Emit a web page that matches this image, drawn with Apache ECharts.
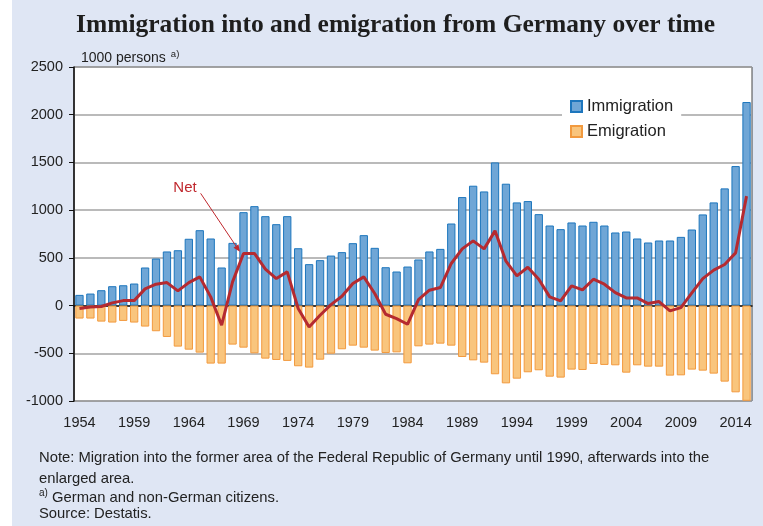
<!DOCTYPE html>
<html>
<head>
<meta charset="utf-8">
<script src="https://cdn.jsdelivr.net/npm/echarts@6/dist/echarts.min.js"></script>
<style>
html,body{margin:0;padding:0;}
#main{width:763px;height:526px;background:linear-gradient(to right,#ffffff 12px,#dfe6f4 12px);}
</style>
</head>
<body>
<div id="main"></div>
<script>
// ---- data ----
const years = [];
for (let y = 1954; y <= 2015; y++) years.push(String(y));

const immigration = [112,126,161,203,213,231,399,493,567,580,700,790,703,399,657,979,1042,937,853,937,
  601,434,476,524,560,654,738,605,402,357,409,483,567,594,860,1137,1256,1196,1500,1277,
  1081,1095,958,839,801,871,839,878,839,766,776,703,661,682,682,720,797,955,1081,1228,1462,2133];

const emigration = [-136,-136,-168,-178,-161,-178,-220,-269,-329,-430,-462,-493,-608,-608,-409,-441,-500,-556,-570,-580,
  -636,-650,-567,-504,-458,-420,-441,-472,-497,-490,-605,-427,-409,-399,-420,-539,-574,-598,-720,-815,
  -766,-699,-678,-745,-755,-671,-675,-612,-622,-626,-703,-626,-640,-640,-734,-731,-671,-682,-713,-797,-909,-998];

const net = [-31,-14,-10,28,52,52,175,224,241,154,241,301,91,-206,248,546,546,381,283,353,
  -31,-224,-101,10,98,231,301,126,-91,-136,-196,63,161,189,441,594,678,594,783,465,
  311,402,276,91,49,206,164,276,224,136,80,80,21,42,-56,-21,133,283,371,430,552,1147];

const yTicks = {min: -1000, max: 2500, interval: 500};

const titleText = 'Immigration into and emigration from Germany over time';
const unitText = '1000 persons';
const noteLines = [
  'Note: Migration into the former area of the Federal Republic of Germany until 1990, afterwards into the',
  'enlarged area.'
];
const footnoteText = ' German and non-German citizens.';
const sourceText = 'Source: Destatis.';

// annotation anchor (category index, value)
const netLabelAt = [9.65, 1232];
const netArrowFrom = [11.08, 1176];
const netArrowTo = [14.67, 563];

const chart = echarts.init(document.getElementById('main'), null, {renderer: 'canvas'});
const sans = 'Liberation Sans, Arial, sans-serif';
const txt = '#222';

const option = {
  backgroundColor: 'transparent',
  animation: false,
  title: [
    {text: titleText, left: 71, top: 7,
     textStyle: {fontFamily: 'Liberation Serif, Times New Roman, serif', fontWeight: 'bold', fontSize: 25.5, color: '#1e1e1e'}},
    {text: '{a|' + unitText + '} {s|a)}', left: 76, top: 44,
     textStyle: {fontWeight: 'normal', rich: {a: {fontFamily: sans, fontSize: 14, fontWeight: 'normal', color: txt}, s: {fontFamily: sans, fontSize: 9.5, fontWeight: 'normal', color: txt, verticalAlign: 'top', padding: [0,0,8,0]}}}},
    {text: noteLines.join('\n'), left: 34, top: 442,
     textStyle: {fontFamily: sans, fontSize: 14.8, color: txt, lineHeight: 21, fontWeight: 'normal'}},
    {text: '{s|a)}{a|' + footnoteText + '}', left: 34, top: 483,
     textStyle: {fontWeight: 'normal', rich: {a: {fontFamily: sans, fontSize: 14.8, fontWeight: 'normal', color: txt}, s: {fontFamily: sans, fontSize: 10, fontWeight: 'normal', color: txt, padding: [0,0,9,0]}}}},
    {text: sourceText, left: 34, top: 501,
     textStyle: {fontFamily: sans, fontSize: 14.8, color: txt, fontWeight: 'normal'}}
  ],
  grid: {left: 74, right: 11, top: 67, bottom: 125, show: true, backgroundColor: '#ffffff', borderColor: '#444', borderWidth: 1},
  legend: {
    data: ['Immigration', 'Emigration'],
    orient: 'vertical', left: 562, top: 94,
    backgroundColor: '#ffffff', padding: [4, 8, 4, 8],
    itemWidth: 11, itemHeight: 11, itemGap: 8, icon: 'rect',
    textStyle: {fontFamily: sans, fontSize: 16.5, color: txt}
  },
  xAxis: {
    type: 'category', data: years, boundaryGap: true,
    axisLine: {lineStyle: {color: '#111', width: 1.5}},
    axisTick: {interval: 0, length: 5, lineStyle: {color: '#111'}},
    axisLabel: {interval: 4, margin: 14, fontFamily: sans, fontSize: 14.5, color: txt},
    splitLine: {show: false}
  },
  yAxis: {
    type: 'value', min: yTicks.min, max: yTicks.max, interval: yTicks.interval,
    axisLine: {show: true, lineStyle: {color: '#111', width: 1.5}},
    axisTick: {show: true, length: 5, lineStyle: {color: '#111'}},
    axisLabel: {margin: 11, fontFamily: sans, fontSize: 14.5, color: txt, formatter: v => String(v)},
    splitLine: {lineStyle: {color: '#a3a3a3', width: 1.5}}
  },
  series: [
    {name: 'Immigration', type: 'bar', data: immigration, barWidth: '76%', barGap: '-100%',
     itemStyle: {color: '#6fa6d6', borderColor: '#1d76bd', borderWidth: 1}},
    {name: 'Emigration', type: 'bar', data: emigration, barWidth: '76%', barGap: '-100%',
     itemStyle: {color: '#f9c57d', borderColor: '#f29a3f', borderWidth: 1}},
    {name: 'Net', type: 'line', data: net, symbol: 'none', z: 5,
     lineStyle: {color: '#b52a30', width: 3}}
  ]
};
chart.setOption(option);

function toPx(pt) {
  const i = Math.floor(pt[0]), f = pt[0] - i;
  const a = chart.convertToPixel({gridIndex: 0}, [i, pt[1]]);
  const b = chart.convertToPixel({gridIndex: 0}, [i + 1, pt[1]]);
  return [a[0] + f * (b[0] - a[0]), a[1]];
}
const lp = toPx(netLabelAt), p0 = toPx(netArrowFrom), p1 = toPx(netArrowTo);
const ang = Math.atan2(p1[1] - p0[1], p1[0] - p0[0]);
const ah = 7, aw = 3;
const bx = p1[0] - ah * Math.cos(ang), by = p1[1] - ah * Math.sin(ang);
chart.setOption({
  graphic: [
    {type: 'text', x: lp[0], y: lp[1], z: 10,
     style: {text: 'Net', fill: '#c0282e', font: '15px ' + sans, textAlign: 'center', textVerticalAlign: 'middle'}},
    {type: 'line', z: 10, shape: {x1: p0[0], y1: p0[1], x2: bx, y2: by}, style: {stroke: '#c0282e', lineWidth: 1}},
    {type: 'polygon', z: 10, shape: {points: [p1,
      [bx + aw * Math.sin(ang), by - aw * Math.cos(ang)],
      [bx - aw * Math.sin(ang), by + aw * Math.cos(ang)]]}, style: {fill: '#c0282e'}}
  ]
});
</script>
</body>
</html>
